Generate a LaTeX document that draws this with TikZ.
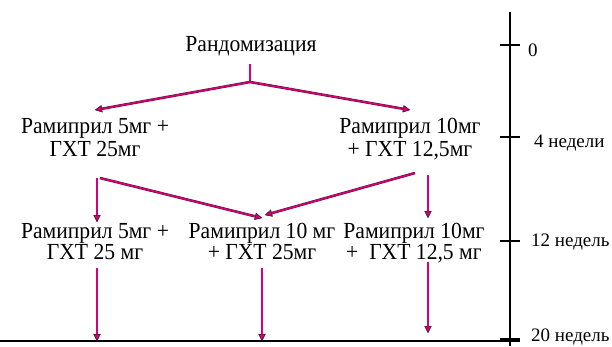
\documentclass[tikz,border=0pt]{standalone}
\usepackage{fontspec}
\setmainfont{Liberation Serif}
\newfontfamily\narrowserif[FakeStretch=0.94]{Liberation Serif}
\usetikzlibrary{arrows.meta,calc}
\definecolor{flowmag}{HTML}{D8007A}
\definecolor{flowedge}{HTML}{5A1838}
\tikzset{
  txt/.style={inner sep=0pt, align=center, font=\narrowserif\fontsize{23}{23}\selectfont},
  txtb/.style={inner sep=0pt, align=center, font=\narrowserif\fontsize{23}{21}\selectfont},
  tlabel/.style={inner sep=0pt, anchor=base west, font=\fontsize{19}{19}\selectfont},
  flowline/.style={draw=flowmag, line width=1.5pt,
    preaction={draw=flowedge, line width=2.6pt}},
  flowarrow/.style={flowline,
    -{Triangle[length=7pt,width=7pt,fill=flowmag,color=flowedge,line width=0.6pt]}},
  axis/.style={line width=2.6pt, black}
}
\begin{document}
\begin{tikzpicture}[x=1pt,y=-1pt]
\useasboundingbox (0,0) rectangle (612,346);

% time axis with ticks and baseline
\draw[axis] (510,12) -- (510,346);
\foreach \yy in {45,137,241,339} \draw[axis] (500,\yy) -- (520,\yy);
\draw[axis] (0,341) -- (520,341);

\node[tlabel] (t0)  at (528,56)    {0};
\node[tlabel] (t4)  at (534,147)   {4 недели};
\node[tlabel] (t12) at (531,246)   {12 недель};
\node[tlabel] (t20) at (531,341)   {20 недель};

% randomisation
\node[txt, anchor=base] (rand) at (251,51) {Рандомизация};
\coordinate (split) at (250,82);

% first period
\node[txt] (a1) at (95,138)  {Рамиприл 5мг +\\ГХТ 25мг};
\node[txt] (b1) at (410,139) {Рамиприл 10мг\\+ ГХТ 12,5мг};

% second period
\node[txtb] (a2) at (95,241.5)  {Рамиприл 5мг +\\ГХТ 25 мг};
\node[txtb] (c2) at (262,241.5) {Рамиприл 10 мг\\+ ГХТ 25мг};
\node[txtb] (b2) at (414,243)   {Рамиприл 10мг\\+\ \ ГХТ 12,5 мг};

% end of study on the baseline
\coordinate (a3) at (97,341);
\coordinate (c3) at (262,341);
\coordinate (b3) at (428,333);

% connectors
\draw[flowline] (250,64) -- (split);
\draw[flowarrow] (split) -- ($(a1.center)+(0,-28)$);
\draw[flowarrow] (split) -- ($(b1.center)+(0,-29)$);

\draw[flowarrow] ($(a1.center)+(2,40)$) -- ($(a2.center)+(2,-19.5)$);
\draw[flowarrow] ($(a1.center)+(5,40)$) -- ($(c2.center)+(0,-23.5)$);
\draw[flowarrow] ($(b1.center)+(5,34)$) -- ($(c2.center)+(3,-26.5)$);
\draw[flowarrow] ($(b1.center)+(18,36)$) -- ($(b2.center)+(14,-25)$);

\draw[flowarrow] ($(a2.center)+(2,26.5)$) -- (a3);
\draw[flowarrow] ($(c2.center)+(0,26.5)$) -- (c3);
\draw[flowarrow] ($(b2.center)+(14,19)$) -- (b3);
\end{tikzpicture}
\end{document}
